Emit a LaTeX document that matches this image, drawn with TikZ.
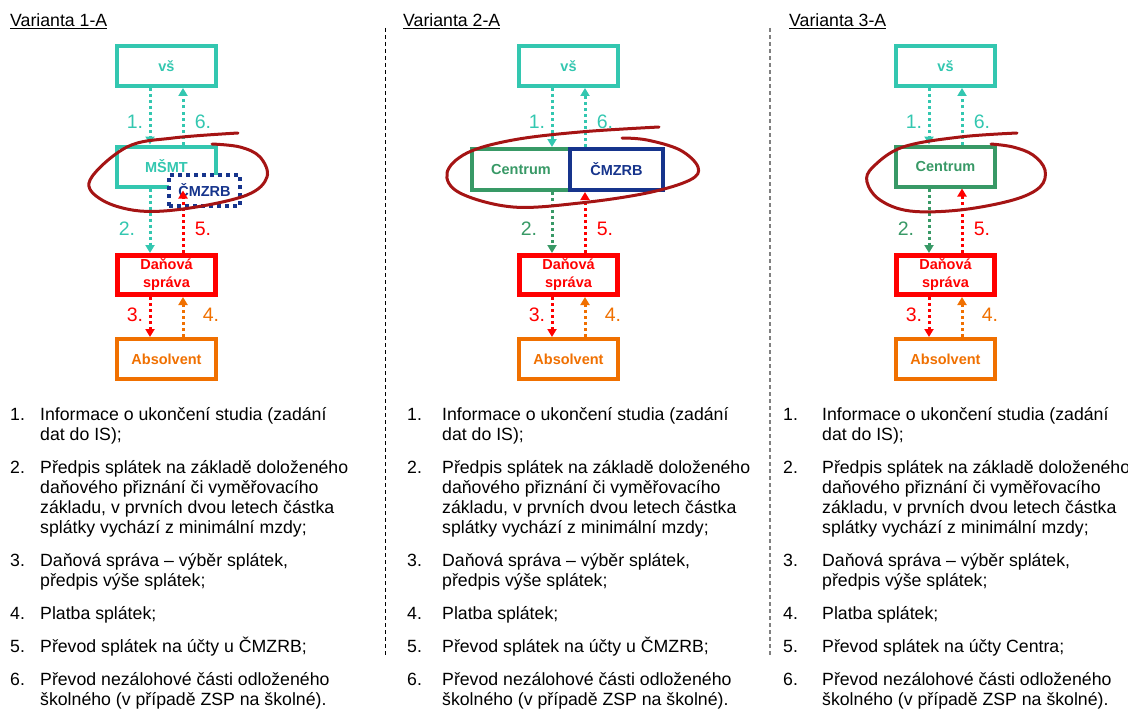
\documentclass[tikz,border=0pt]{standalone}
\usepackage{fontspec}
\setmainfont{Liberation Sans}
\usetikzlibrary{arrows.meta}

\definecolor{tyrk}{RGB}{51,199,176}
\definecolor{zelena}{RGB}{56,153,102}
\definecolor{modra}{RGB}{22,52,140}
\definecolor{cervena}{RGB}{255,0,0}
\definecolor{oranz}{RGB}{240,112,0}
\definecolor{vinova}{RGB}{165,20,20}

% popis kroku pod diagramem: #1 x cisla, #2 x textu, #3 text bodu 5
% (viceradkove uzly sedi na uctarii posledniho radku)
\newcommand{\seznam}[3]{%
\node[polozka] (c1) at (#1,420) {1.};
\node[polozka] (p1) at (#2,440) {Informace o ukončení studia (zadání\\dat do IS);};
\node[polozka] (c2) at (#1,473) {2.};
\node[polozka] (p2) at (#2,533) {Předpis splátek na základě doloženého\\daňového přiznání či vyměřovacího\\základu, v prvních dvou letech částka\\splátky vychází z minimální mzdy;};
\node[polozka] (c3) at (#1,566) {3.};
\node[polozka] (p3) at (#2,586) {Daňová správa – výběr splátek,\\předpis výše splátek;};
\node[polozka] (c4) at (#1,619) {4.};
\node[polozka] (p4) at (#2,619) {Platba splátek;};
\node[polozka] (c5) at (#1,652) {5.};
\node[polozka] (p5) at (#2,652) {#3};
\node[polozka] (c6) at (#1,685) {6.};
\node[polozka] (p6) at (#2,705) {Převod nezálohové části odloženého\\školného (v případě ZSP na školné).};
}

\begin{document}
\begin{tikzpicture}[x=1pt,y=-1pt,
  kast/.style={draw, line width=4pt, fill=white, minimum width=99pt, minimum height=40pt,
    inner sep=0pt, font=\fontsize{14.5}{18}\selectfont\bfseries, align=center},
  tecky/.style={draw=modra, text=modra, line width=4pt, dash pattern=on 4pt off 4pt, fill=white,
    minimum width=71pt, minimum height=31pt, inner sep=0pt, font=\fontsize{14.5}{18}\selectfont\bfseries},
  sipka/.style={line width=3pt, dash pattern=on 3pt off 3pt, -{Triangle[width=9pt,length=8pt]}},
  cislo/.style={font=\fontsize{19.5}{20}\selectfont, inner sep=0pt},
  polozka/.style={anchor=base west, align=left, inner sep=0pt, font=\fontsize{17.7}{20}\selectfont},
  nadpis/.style={anchor=base west, inner sep=0pt, font=\fontsize{17.7}{20}\selectfont},
  kruh/.style={vinova, line width=3pt, line cap=round}]
\useasboundingbox (0,0) rectangle (1128,709);

% oddelovace
\draw[line width=1pt, dash pattern=on 4pt off 3pt] (385,28) -- (385,656);
\draw[gray, line width=2pt, dash pattern=on 4pt off 3pt] (770,28) -- (770,656);

%%% Varianta 1-A
\node[nadpis] (n1) at (10,27) {\underline{Varianta 1-A}};
\node[kast, draw=tyrk, text=tyrk] (vs1) at (166.5,66) {vš};
\node[kast, draw=tyrk, text=tyrk] (msmt1) at (166.5,166.5) {MŠMT};
\node[tecky] (cmzrb1) at (204.5,190.5) {ČMZRB};
\node[kast, draw=cervena, text=cervena, line width=5pt, minimum width=98pt, minimum height=39pt] (dan1) at (166.5,275) {Daňová\\správa};
\node[kast, draw=oranz, text=oranz] (abs1) at (166.5,359) {Absolvent};

\draw[sipka, tyrk] ([xshift=-16.5pt]vs1.south) -- ([xshift=-16.5pt]msmt1.north);
\draw[sipka, tyrk] ([xshift=16.5pt]msmt1.north) -- ([xshift=16.5pt]vs1.south);
\draw[sipka, tyrk] ([xshift=-16.5pt]msmt1.south) -- ([xshift=-16.5pt]dan1.north);
\draw[sipka, cervena] ([xshift=16.5pt]dan1.north) -- ([xshift=16.5pt]dan1.north |- cmzrb1.center);
\draw[sipka, cervena] ([xshift=-16.5pt]dan1.south) -- ([xshift=-16.5pt]abs1.north);
\draw[sipka, oranz] ([xshift=16.5pt]abs1.north) -- ([xshift=16.5pt]dan1.south);

\node[cislo, tyrk] (k1a) at (135,122) {1.};
\node[cislo, tyrk] (k6a) at (203,122) {6.};
\node[cislo, tyrk] (k2a) at (127,229) {2.};
\node[cislo, cervena] (k5a) at (203,229) {5.};
\node[cislo, cervena] (k3a) at (135,315) {3.};
\node[cislo, oranz] (k4a) at (211,315) {4.};

\draw[kruh] plot[smooth, tension=0.6] coordinates {(238,133) (173,138) (127,147) (90,180) (102,200)
  (140,211) (190,208) (247,195) (267,177) (260,157) (240,147) (212,144)};

\begin{scope}[name prefix=s1-]
\seznam{10}{40}{Převod splátek na účty u ČMZRB;}
\end{scope}

%%% Varianta 2-A
\node[nadpis] (n2) at (403,27) {\underline{Varianta 2-A}};
\node[kast, draw=tyrk, text=tyrk] (vs2) at (568.5,66) {vš};
\node[kast, draw=zelena, text=zelena, minimum width=98pt, minimum height=41pt] (centrum2) at (521,169.5) {Centrum};
\node[kast, draw=modra, text=modra, minimum width=93pt, minimum height=41pt, anchor=west] (cmzrb2) at ([xshift=-4pt]centrum2.east) {ČMZRB};
\node[kast, draw=cervena, text=cervena, line width=5pt, minimum width=98pt, minimum height=39pt] (dan2) at (568.5,275) {Daňová\\správa};
\node[kast, draw=oranz, text=oranz] (abs2) at (568.5,359) {Absolvent};

\draw[sipka, tyrk] ([xshift=-16.5pt]vs2.south) -- ([xshift=-16.5pt]vs2.south |- centrum2.north);
\draw[sipka, tyrk] ([xshift=16.5pt]vs2.south |- cmzrb2.north) -- ([xshift=16.5pt]vs2.south);
\draw[sipka, zelena] ([xshift=-16.5pt]dan2.north |- centrum2.south) -- ([xshift=-16.5pt]dan2.north);
\draw[sipka, cervena] ([xshift=16.5pt]dan2.north) -- ([xshift=16.5pt]dan2.north |- cmzrb2.south);
\draw[sipka, cervena] ([xshift=-16.5pt]dan2.south) -- ([xshift=-16.5pt]abs2.north);
\draw[sipka, oranz] ([xshift=16.5pt]abs2.north) -- ([xshift=16.5pt]dan2.south);

\node[cislo, tyrk] (k1b) at (537,122) {1.};
\node[cislo, tyrk] (k6b) at (605,122) {6.};
\node[cislo, zelena] (k2b) at (529,229) {2.};
\node[cislo, cervena] (k5b) at (605,229) {5.};
\node[cislo, cervena] (k3b) at (537,315) {3.};
\node[cislo, oranz] (k4b) at (613,315) {4.};

\draw[kruh] plot[smooth, tension=0.6] coordinates {(659,127) (580,132) (513,140) (467,153) (447,173)
  (460,193) (513,207) (580,203) (647,193) (690,180) (698,167) (680,150) (647,140) (622,138)};

\begin{scope}[name prefix=s2-]
\seznam{407}{442}{Převod splátek na účty u ČMZRB;}
\end{scope}

%%% Varianta 3-A
\node[nadpis] (n3) at (789,27) {\underline{Varianta 3-A}};
\node[kast, draw=tyrk, text=tyrk] (vs3) at (945.5,66) {vš};
\node[kast, draw=zelena, text=zelena] (centrum3) at (945.5,166.5) {Centrum};
\node[kast, draw=cervena, text=cervena, line width=5pt, minimum width=98pt, minimum height=39pt] (dan3) at (945.5,275) {Daňová\\správa};
\node[kast, draw=oranz, text=oranz] (abs3) at (945.5,359) {Absolvent};

\draw[sipka, tyrk] ([xshift=-16.5pt]vs3.south) -- ([xshift=-16.5pt]centrum3.north);
\draw[sipka, tyrk] ([xshift=16.5pt]centrum3.north) -- ([xshift=16.5pt]vs3.south);
\draw[sipka, zelena] ([xshift=-16.5pt]centrum3.south) -- ([xshift=-16.5pt]dan3.north);
\draw[sipka, cervena] ([xshift=16.5pt]dan3.north) -- ([xshift=16.5pt]centrum3.south);
\draw[sipka, cervena] ([xshift=-16.5pt]dan3.south) -- ([xshift=-16.5pt]abs3.north);
\draw[sipka, oranz] ([xshift=16.5pt]abs3.north) -- ([xshift=16.5pt]dan3.south);

\node[cislo, tyrk] (k1c) at (914,122) {1.};
\node[cislo, tyrk] (k6c) at (982,122) {6.};
\node[cislo, zelena] (k2c) at (906,229) {2.};
\node[cislo, cervena] (k5c) at (982,229) {5.};
\node[cislo, cervena] (k3c) at (914,315) {3.};
\node[cislo, oranz] (k4c) at (990,315) {4.};

\draw[kruh] plot[smooth, tension=0.6] coordinates {(1017,133) (960,137) (903,147) (873,167) (867,182)
  (880,200) (910,211) (960,210) (1013,200) (1040,187) (1045,170) (1033,155) (1013,147) (991,144)};

\begin{scope}[name prefix=s3-]
\seznam{783}{822}{Převod splátek na účty Centra;}
\end{scope}

\end{tikzpicture}
\end{document}
